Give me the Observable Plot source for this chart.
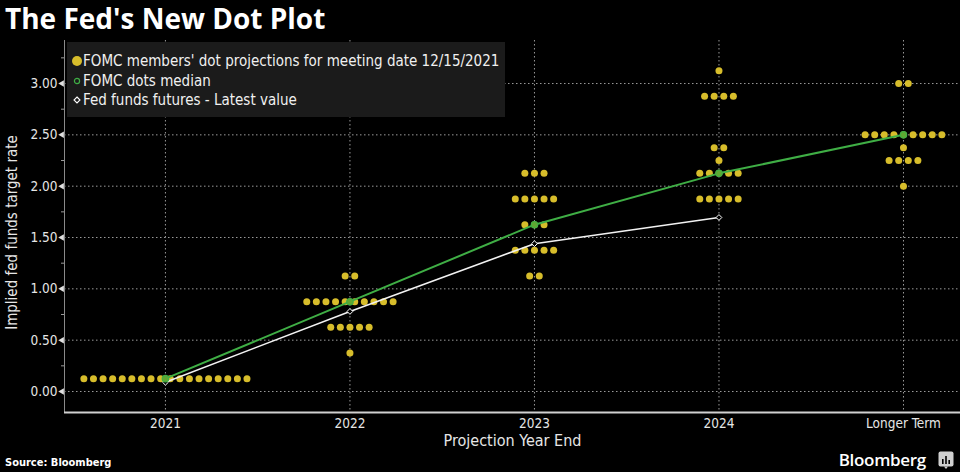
<!DOCTYPE html>
<html>
<head>
<meta charset="utf-8">
<script src="https://cdn.jsdelivr.net/npm/d3@7"></script>
<script src="https://cdn.jsdelivr.net/npm/@observablehq/plot@0.6"></script>
<style>
  html, body { margin: 0; padding: 0; background: #000; }
  body { width: 960px; height: 472px; overflow: hidden; position: relative; color: #e6e6e6;
         font-family: "DejaVu Sans Condensed", "DejaVu Sans", sans-serif; font-stretch: condensed; }
  #title { height: 36px; line-height: 36px; padding-left: 5px; font-family: "Open Sans", sans-serif;
           font-weight: 700; font-size: 28px; color: #fff; font-stretch: normal; }
  #chart { height: 416px; }
  #legend { position: absolute; left: 67px; top: 42px; width: 438px; height: 75px; background: #1b1b1b; }
  .item { position: absolute; left: 16px; font-size: 15px; line-height: 18px; color: #f0f0f0; white-space: nowrap; }
  .sym { position: absolute; }
  #footer { position: absolute; left: 0; top: 452px; width: 960px; height: 20px; }
  #source { position: absolute; left: 5px; top: 4px; font-size: 11px; font-weight: bold; color: #fff; }
  #brand { position: absolute; right: 34px; top: -4px; font-family: "Open Sans", sans-serif; font-stretch: normal;
           font-weight: 600; font-size: 17px; color: #fff; letter-spacing: -0.3px; }
  #icon { position: absolute; right: 6px; top: -1px; }
</style>
</head>
<body>
<div id="title">The Fed's New Dot Plot</div>
<div id="chart"></div>
<div id="legend">
  <svg class="sym" style="left:4px;top:13px" width="12" height="12"><circle cx="6" cy="6" r="5" fill="#d7bd2b"/></svg>
  <div class="item" style="top:10px">FOMC members' dot projections for meeting date 12/15/2021</div>
  <svg class="sym" style="left:6px;top:35px" width="8" height="8"><circle cx="4" cy="4" r="2.6" fill="none" stroke="#3fae45" stroke-width="1.2"/></svg>
  <div class="item" style="top:30px">FOMC dots median</div>
  <svg class="sym" style="left:6px;top:54px" width="8" height="8"><path d="M4 1 L7 4 L4 7 L1 4 Z" fill="none" stroke="#fff" stroke-width="1.1"/></svg>
  <div class="item" style="top:49px">Fed funds futures - Latest value</div>
</div>
<div id="footer">
  <div id="source">Source: Bloomberg</div>
  <div id="brand">Bloomberg</div>
  <svg id="icon" width="16" height="18" viewBox="0 0 16 18">
    <rect x="0.5" y="0.5" width="15" height="15" rx="2" fill="#cfcfcf"/>
    <path d="M6 15.5 L8 18 L10 15.5 Z" fill="#cfcfcf"/>
    <rect x="4" y="8" width="1.6" height="5" fill="#000"/>
    <rect x="7.2" y="5" width="1.6" height="8" fill="#000"/>
    <rect x="10.4" y="9" width="1.6" height="4" fill="#000"/>
  </svg>
</div>
<script>
const categories = ["2021", "2022", "2023", "2024", "Longer Term"];
// [rate, number of FOMC participants]
const dots2021 = [[0.125, 18]];
const dots2022 = [[0.375, 1], [0.625, 5], [0.875, 10], [1.125, 2]];
const dots2023 = [[1.125, 2], [1.375, 5], [1.625, 3], [1.875, 5], [2.125, 3]];
const dots2024 = [[1.875, 5], [2.125, 5], [2.25, 1], [2.375, 2], [2.875, 4], [3.125, 1]];
const dotsLonger = [[2.0, 1], [2.25, 4], [2.375, 1], [2.5, 9], [3.0, 2]];
const medianValues = [0.125, 0.875, 1.625, 2.125, 2.5];
const futuresValues = [0.09, 0.78, 1.44, 1.695];
const yTicks = [0, 0.5, 1, 1.5, 2, 2.5, 3];
const yMinorTicks = [0.25, 0.75, 1.25, 1.75, 2.25, 2.75, 3.25];

const spacing = 0.052;
const xMin = -0.547, xMax = 4.309, yMin = -0.2045, yMax = 3.419;
const dotGroups = [dots2021, dots2022, dots2023, dots2024, dotsLonger];
const dotRows = dotGroups.flatMap((rows, i) =>
  rows.flatMap(([rate, n]) => d3.range(n).map(j => ({x: i + (j - (n - 1) / 2) * spacing, y: rate}))));
const medianRows = medianValues.map((v, i) => ({x: i, y: v}));
const futuresRows = futuresValues.map((v, i) => ({x: i, y: v}));

const font = "'DejaVu Sans Condensed', 'DejaVu Sans', sans-serif";
const chart = Plot.plot({
  width: 960, height: 416,
  marginLeft: 64, marginRight: 0, marginTop: 4, marginBottom: 40,
  style: {background: "#000", color: "#e6e6e6", fontFamily: font, fontSize: "13.5px", fontStretch: "condensed"},
  x: {domain: [xMin, xMax]},
  y: {domain: [yMin, yMax]},
  marks: [
    Plot.ruleY(yTicks, {stroke: "#9a9a9a", strokeDasharray: "1.5,2.5", strokeWidth: 1}),
    Plot.ruleX(d3.range(categories.length), {stroke: "#9a9a9a", strokeDasharray: "1.5,2.5", strokeWidth: 1}),
    Plot.ruleX([xMin], {stroke: "#8a8a8a", strokeWidth: 1}),
    Plot.ruleY([yMin], {stroke: "#d0d0d0", strokeWidth: 2}),
    Plot.axisY(yMinorTicks, {tickSize: 3, tickFormat: () => "", label: null, stroke: "#9a9a9a"}),
    Plot.axisY(yTicks, {tickSize: 0, tickPadding: 7, tickFormat: d3.format(".2f"), label: null}),
    Plot.dot(yTicks, {y: d => d, frameAnchor: "left", symbol: "triangle", rotate: -90, r: 2.4, fill: "#e0e0e0", dx: -2.5}),
    Plot.axisX(d3.range(categories.length), {tickSize: 0, tickPadding: 6, tickFormat: i => categories[i], label: null}),
    Plot.text(["Projection Year End"], {frameAnchor: "bottom", dy: 28, fontSize: 16, fill: "#e6e6e6", textAnchor: "middle", lineAnchor: "middle"}),
    Plot.text(["Implied fed funds target rate"], {frameAnchor: "left", dx: -52, dy: 6, rotate: -90, fontSize: 15, fill: "#e6e6e6", textAnchor: "middle", lineAnchor: "middle"}),
    Plot.dot(dotRows, {x: "x", y: "y", r: 3.5, fill: "#d7bd2b"}),
    Plot.line(futuresRows, {x: "x", y: "y", stroke: "#f2f2f2", strokeWidth: 1.6}),
    Plot.dot(futuresRows, {x: "x", y: "y", symbol: "diamond2", r: 2.6, stroke: "#fff", fill: "#000", strokeWidth: 1}),
    Plot.line(medianRows, {x: "x", y: "y", stroke: "#3fae45", strokeWidth: 2}),
    Plot.dot(medianRows, {x: "x", y: "y", r: 3.2, stroke: "#3fae45", fill: "#5fa832", strokeWidth: 1.2})
  ]
});
document.getElementById("chart").appendChild(chart);
</script>
</body>
</html>
